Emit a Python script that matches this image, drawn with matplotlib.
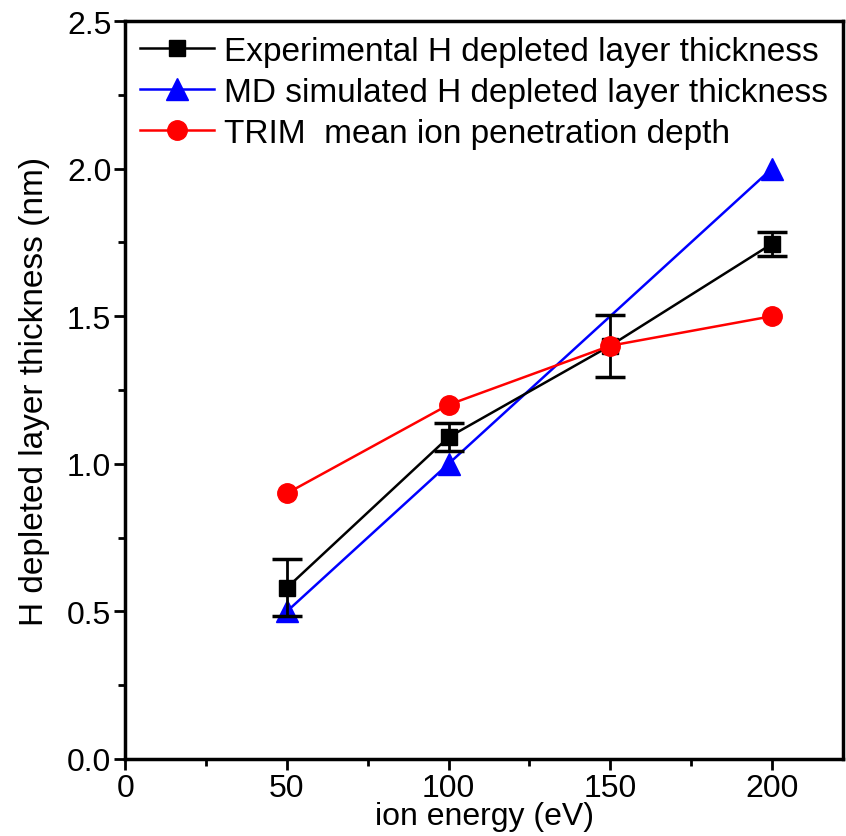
import matplotlib
matplotlib.use("Agg")
import matplotlib.pyplot as plt
from matplotlib.ticker import MultipleLocator

plt.rcParams['font.family'] = ['Liberation Sans', 'DejaVu Sans']

energy = [50, 100, 150, 200]
exp_thick = [0.58, 1.09, 1.40, 1.745]
exp_err = [0.096, 0.048, 0.105, 0.04]
md_energy = [50, 100, 200]
md_thick = [0.5, 1.0, 2.0]
trim_depth = [0.9, 1.2, 1.4, 1.5]

fig = plt.figure(figsize=(8.46, 8.37), dpi=100)
ax = fig.add_axes([0.148, 0.092, 0.8485, 0.8817])

# error bars drawn on their own, line + markers carry the legend entry
ax.errorbar(energy, exp_thick, yerr=exp_err, fmt="none", ecolor="black",
            elinewidth=2, capsize=11, capthick=2.5, zorder=3)
ax.plot(energy, exp_thick, c="black", marker="s", ms=12, lw=1.8,
        label="Experimental H depleted layer thickness", zorder=3)
ax.plot(md_energy, md_thick, c="blue", marker="^", ms=16, lw=1.8,
        label="MD simulated H depleted layer thickness", zorder=2)
ax.plot(energy, trim_depth, c="red", marker="o", ms=14, lw=1.8,
        label="TRIM  mean ion penetration depth", zorder=4)

ax.set_xlim(0, 222)
ax.set_ylim(0, 2.5)
ax.xaxis.set_major_locator(MultipleLocator(50))
ax.xaxis.set_minor_locator(MultipleLocator(25))
ax.yaxis.set_major_locator(MultipleLocator(0.5))
ax.yaxis.set_minor_locator(MultipleLocator(0.25))
ax.yaxis.set_major_formatter(plt.FuncFormatter(lambda v, p: "%.1f" % v))
ax.tick_params(which="both", direction="out", width=2, labelsize=23)
ax.tick_params(which="major", length=8, pad=2)
ax.tick_params(which="minor", length=5)
for s in ax.spines.values():
    s.set_linewidth(2.5)

ax.set_xlabel("ion energy (eV)", fontsize=23, labelpad=-1)
ax.set_ylabel("H depleted layer thickness (nm)", fontsize=24, labelpad=12)

ax.legend(loc="upper left", frameon=False, fontsize=24, handlelength=2.2,
          handletextpad=0.3, borderaxespad=0.05, labelspacing=0.3)

fig.savefig("out.png", dpi=100)
